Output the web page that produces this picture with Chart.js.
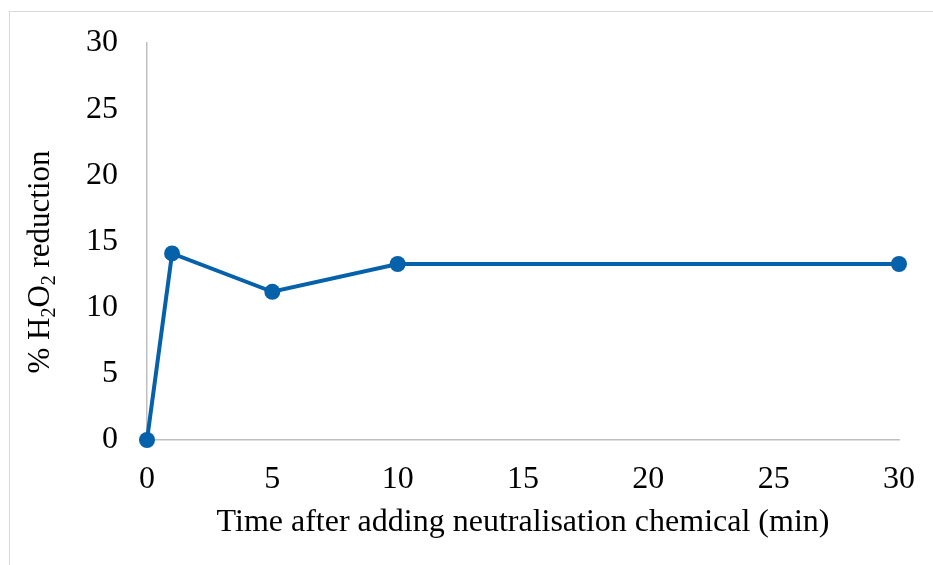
<!DOCTYPE html>
<html>
<head>
<meta charset="utf-8">
<script src="https://cdn.jsdelivr.net/npm/chart.js@4/dist/chart.umd.min.js"></script>
<style>
html,body{margin:0;padding:0;background:#fff;}
#wrap{position:relative;width:933px;height:565px;}
#frame{position:absolute;left:9px;top:11px;right:0;bottom:0;border-left:1.5px solid #d9d9d9;border-top:1.5px solid #d9d9d9;}
canvas{position:absolute;left:0;top:0;}
</style>
</head>
<body>
<div id="wrap"><div id="frame"></div><canvas id="c" width="933" height="565"></canvas></div>
<script>
const timeMin = [0, 1, 5, 10, 30];
const h2o2Reduction = [0, 14.1, 11.2, 13.3, 13.3];
const xTicks = [0, 5, 10, 15, 20, 25, 30];
const yTicks = [0, 5, 10, 15, 20, 25, 30];
const xTitle = 'Time after adding neutralisation chemical (min)';
const yTitleParts = [['% H', false], ['2', true], ['O', false], ['2', true], [' reduction', false]];

const FONT = '"Liberation Serif", "Times New Roman", serif';
const BLUE = '#0561AA';
const AXIS = '#bfbfbf';

const yTitlePlugin = {
  id: 'yTitle',
  afterDraw(chart) {
    const ctx = chart.ctx;
    ctx.save();
    const big = '31px ' + FONT, small = '20px ' + FONT;
    let total = 0;
    yTitleParts.forEach(([t, sub]) => { ctx.font = sub ? small : big; total += ctx.measureText(t).width; });
    const cx = 49, cy = 262;
    ctx.translate(cx, cy);
    ctx.rotate(-Math.PI / 2);
    ctx.fillStyle = '#000';
    ctx.textBaseline = 'alphabetic';
    ctx.textAlign = 'left';
    let x = -total / 2;
    yTitleParts.forEach(([t, sub]) => {
      ctx.font = sub ? small : big;
      ctx.fillText(t, x, sub ? 6 : 0);
      x += ctx.measureText(t).width;
    });
    ctx.restore();
  }
};

new Chart(document.getElementById('c'), {
  type: 'scatter',
  data: {
    datasets: [{
      data: timeMin.map((t, i) => ({ x: t, y: h2o2Reduction[i] })),
      showLine: true,
      clip: false,
      borderColor: BLUE,
      backgroundColor: BLUE,
      borderWidth: 4,
      pointRadius: 8,
      pointBorderWidth: 0,
      pointBackgroundColor: BLUE,
      tension: 0
    }]
  },
  options: {
    responsive: false,
    animation: false,
    events: [],
    layout: { padding: { left: 0, top: 43, right: 34, bottom: 23 } },
    plugins: { legend: { display: false }, tooltip: { enabled: false } },
    scales: {
      x: {
        type: 'linear', min: 0, max: 30,
        afterBuildTicks: s => { s.ticks = xTicks.map(v => ({ value: v })); },
        afterFit: s => { s.height = 102; s.paddingLeft = 0; s.paddingRight = 0; },
        grid: { display: false, drawTicks: false },
        border: { display: true, color: AXIS, width: 1.5 },
        ticks: { color: '#000', font: { family: FONT, size: 32 }, padding: 20, maxRotation: 0, autoSkip: false },
        title: { display: true, text: xTitle, color: '#000', font: { family: FONT, size: 32 }, padding: { top: 4, bottom: 0 } }
      },
      y: {
        type: 'linear', min: 0, max: 30,
        afterBuildTicks: s => { s.ticks = yTicks.map(v => ({ value: v })); },
        afterFit: s => { s.width = 147; s.paddingTop = 0; s.paddingBottom = 0; },
        grid: { display: false, drawTicks: false },
        border: { display: true, color: AXIS, width: 1.5 },
        ticks: { color: '#000', font: { family: FONT, size: 32 }, padding: 29, autoSkip: false }
      }
    }
  },
  plugins: [yTitlePlugin]
});
</script>
</body>
</html>
